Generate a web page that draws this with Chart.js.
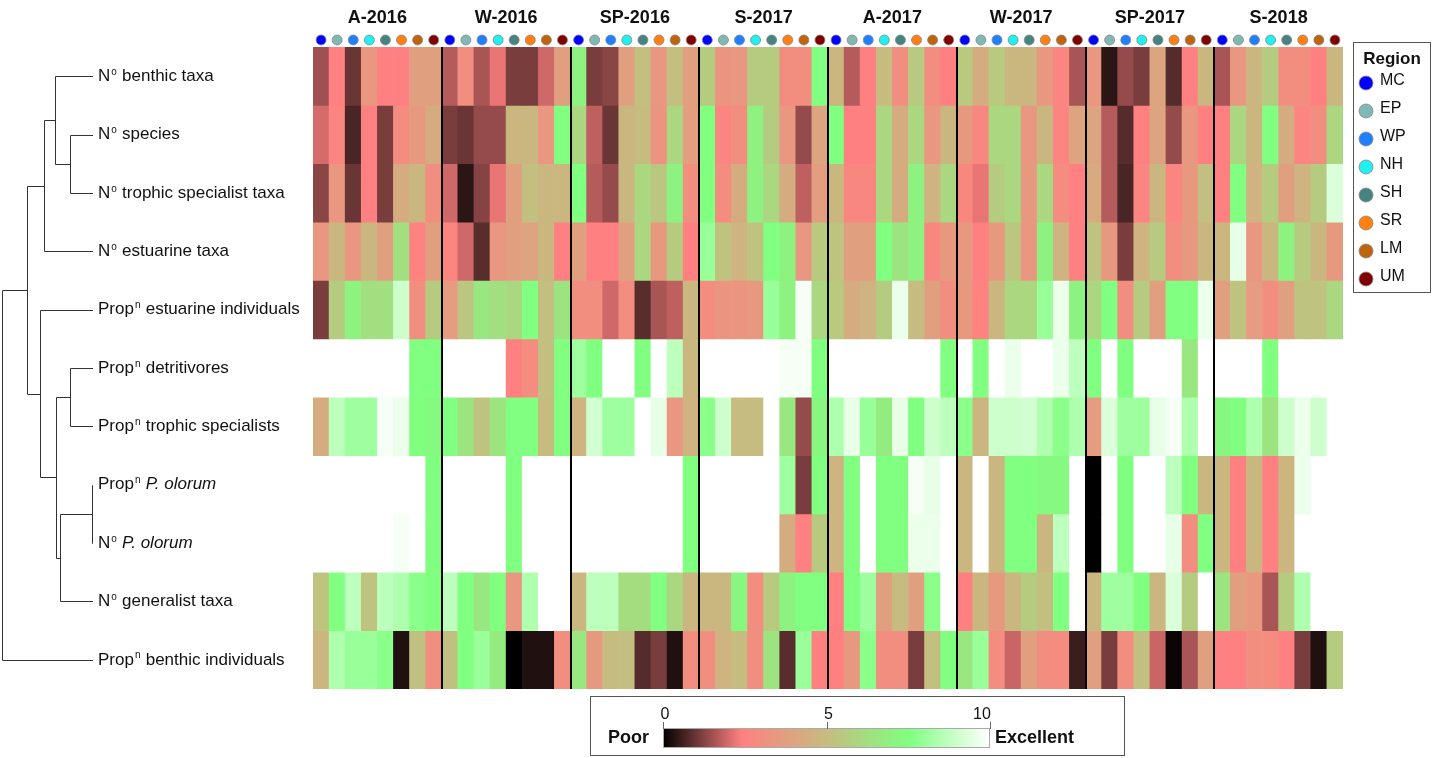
<!DOCTYPE html>
<html><head><meta charset="utf-8">
<script src="https://cdn.jsdelivr.net/npm/chart.js@4.4.1/dist/chart.umd.min.js"></script>
<style>html,body{margin:0;padding:0;background:#fff;overflow:hidden}#wrap{position:relative;width:1436px;height:758px}</style>
</head><body><div id="wrap"><canvas id="c" width="1436" height="758"></canvas></div>
<script>
const periods = ['A-2016','W-2016','SP-2016','S-2017','A-2017','W-2017','SP-2017','S-2018'];
const regions = ['MC','EP','WP','NH','SH','SR','LM','UM'];
const regionColors = ['#0000ff','#80b8b4','#1e80ff','#20f0f0','#468480','#ff8010','#c0640c','#800000'];
const indicatorLabels = [
  'N^o benthic taxa','N^o species','N^o trophic specialist taxa','N^o estuarine taxa',
  'Prop^n estuarine individuals','Prop^n detritivores','Prop^n trophic specialists',
  'Prop^n _P. olorum_','N^o _P. olorum_','N^o generalist taxa','Prop^n benthic individuals'];
const colorbarTicks = [0,5,10];

// scores 0-10, rows = indicators, columns = regions (MC..UM)
const A_2016 = [
[1.5,2.4,1.0,3.4,2.4,2.4,3.8,3.8],
[2.0,2.6,0.7,2.4,1.15,2.9,3.5,4.3],
[1.3,3.4,1.0,2.4,1.15,4.3,4.8,3.0],
[3.4,4.8,3.4,4.8,3.8,6.3,2.5,3.8],
[1.15,5.6,7.0,6.3,6.3,9.0,3.0,5.6],
[10,10,10,10,10,10,7.5,7.5],
[4.3,8.7,8.1,8.1,9.8,9.6,7.5,7.3],
[10,10,10,10,10,10,10,7.5],
[10,10,10,10,10,9.8,10,7.5],
[5.3,7.5,8.7,5.3,8.7,8.4,7.7,7.5],
[4.7,8.4,8.0,8.0,7.7,0.3,5.2,3.0]];
const W_2016 = [
[1.7,3.0,1.6,2.2,1.15,1.15,1.95,3.8],
[1.15,1.0,1.4,1.4,4.8,4.8,3.4,7.5],
[1.95,0.4,1.25,2.2,3.8,5.1,4.8,4.8],
[2.6,1.95,0.85,3.4,3.8,3.9,4.8,2.4],
[3.6,5.4,6.6,6.3,6.0,7.5,5.1,6.5],
[10,10,10,10,2.4,2.9,5.1,7.5],
[7.5,6.5,5.3,6.5,7.5,7.5,5.0,7.5],
[10,10,10,10,7.5,10,10,10],
[10,10,10,10,7.5,10,10,10],
[8.7,7.5,6.6,7.5,3.4,8.4,10,10],
[5.2,7.5,8.0,6.8,0.0,0.3,0.3,3.0]];
const SP_2016 = [
[7.0,1.15,1.3,3.8,5.1,3.4,5.1,3.8],
[6.0,1.8,1.0,4.8,5.0,3.3,6.0,3.7],
[7.5,1.7,1.4,4.8,6.0,5.4,7.0,3.0],
[3.8,2.4,2.4,3.8,6.0,3.5,5.6,2.4],
[3.0,3.0,1.95,3.0,0.85,1.6,1.8,4.8],
[8.1,7.5,10,10,7.5,10,8.7,4.8],
[4.6,9.1,8.1,8.1,10,9.5,3.4,4.6],
[10,10,10,10,10,10,10,7.5],
[10,10,10,10,10,10,10,7.5],
[4.8,8.7,8.7,6.2,6.2,7.5,6.0,4.8],
[6.6,3.5,5.0,5.1,0.8,1.15,0.3,3.0]];
const S_2017 = [
[5.6,3.3,3.4,5.6,5.6,3.0,3.0,7.5],
[7.5,2.6,3.0,7.0,5.6,3.4,1.4,4.0],
[7.5,2.9,4.3,7.0,6.0,4.3,1.8,3.7],
[8.0,5.3,4.6,5.3,7.5,7.0,3.4,5.5],
[2.9,3.3,3.3,3.5,8.0,7.0,9.8,6.0],
[10,10,10,10,10,9.8,9.8,7.5],
[7.7,9.0,5.0,5.0,10,6.6,1.4,7.2],
[10,10,10,10,10,8.1,1.15,7.5],
[10,10,10,10,10,4.3,2.4,5.5],
[4.8,4.8,7.2,3.0,5.5,7.0,7.5,7.5],
[3.0,4.6,5.0,3.0,6.5,0.85,8.0,2.4]];
const A_2017 = [
[4.8,1.7,2.4,5.0,3.0,5.5,3.0,2.4],
[7.5,2.4,2.4,6.0,4.3,6.0,3.4,4.8],
[4.8,2.7,2.7,6.0,4.3,7.0,4.6,6.0],
[5.3,3.8,3.8,7.5,6.5,7.0,2.7,3.5],
[5.5,4.3,4.6,5.6,9.6,5.0,3.8,3.0],
[10,10,10,10,10,10,10,7.5],
[8.4,9.5,8.0,6.8,9.5,7.5,9.0,8.7],
[4.6,7.5,10,7.5,7.5,9.8,9.5,10],
[4.6,7.5,10,7.5,7.5,9.6,9.6,10],
[2.4,7.5,8.1,3.8,5.0,3.8,7.7,10],
[2.4,3.5,7.7,3.0,3.0,1.15,5.1,7.5]];
const W_2017 = [
[5.5,4.3,5.5,4.8,4.8,3.4,2.6,1.6],
[3.5,2.7,6.0,6.0,3.4,4.8,2.6,4.0],
[2.7,2.2,5.6,6.0,3.5,6.0,2.9,2.4],
[3.5,2.4,3.5,5.4,3.4,7.0,4.6,2.4],
[3.5,2.5,4.8,6.0,6.0,8.0,9.6,7.0],
[10,7.5,10,9.6,10,10,9.6,8.7],
[7.7,4.7,9.0,9.0,9.1,8.4,7.7,8.4],
[4.8,10,4.8,7.5,7.5,7.3,7.3,10],
[4.8,10,4.8,7.5,7.5,4.8,8.7,10],
[2.4,4.8,3.5,4.8,5.6,5.1,7.5,10],
[6.6,8.0,2.9,1.9,3.8,3.0,2.9,0.55]];
const SP_2017 = [
[3.4,0.4,1.4,1.15,4.0,0.8,2.4,4.8],
[4.0,1.7,0.8,2.4,4.0,1.4,3.4,2.4],
[4.2,1.7,0.7,2.6,4.8,2.6,3.5,5.1],
[5.3,3.5,1.15,4.6,5.5,3.0,3.5,4.8],
[6.0,7.5,3.0,5.6,3.8,7.5,7.5,9.6],
[7.5,10,7.5,10,10,10,6.6,10],
[3.6,9.3,8.1,8.1,9.5,9.8,8.4,10],
[0,10,7.5,10,10,8.7,7.5,4.8],
[0,10,7.5,10,10,9.5,3.0,7.5],
[4.8,8.1,8.1,7.5,4.8,9.3,5.6,10],
[3.8,1.15,3.0,5.1,1.9,0.1,1.6,3.8]];
const S_2018 = [
[1.6,3.4,4.8,5.6,3.0,3.0,2.4,4.8],
[2.4,6.0,4.8,7.5,4.3,2.6,3.0,6.0],
[2.4,7.5,4.6,5.6,3.8,4.6,5.6,9.3],
[4.8,9.5,3.4,4.8,7.0,5.6,4.8,3.5],
[3.8,5.3,3.6,3.0,3.8,5.3,5.3,6.0],
[10,10,10,7.5,10,10,10,10],
[7.2,7.5,8.4,6.5,9.0,9.6,9.0,10],
[4.8,2.4,4.8,2.4,4.7,9.6,10,10],
[4.8,2.4,4.8,2.4,4.7,10,10,10],
[6.5,3.8,3.4,1.6,5.6,8.4,10,10],
[2.4,2.4,3.0,2.9,2.4,1.15,0.3,5.6]];
const periodData = [A_2016,W_2016,SP_2016,S_2017,A_2017,W_2017,SP_2017,S_2018];

// dendrogram: [childA, childB, height (0 = leaves, 1 = root)]; children are leaf indices or 'n'+node index
const dendroNodes = [
  [1,2,0.25],        // n0
  [0,'n0',0.42],     // n1
  ['n1',3,0.54],     // n2
  [5,6,0.25],        // n3
  [7,8,0.01],        // n4
  ['n4',9,0.36],     // n5
  ['n3','n5',0.41],  // n6
  [4,'n6',0.58],     // n7
  ['n2','n7',0.73],  // n8
  ['n8',10,1.0]      // n9 root
];

// colour scale
const cstops = [[0,[0,0,0]],[2.4,[255,128,128]],[5,[198,188,128]],[7.5,[128,255,128]],[10,[255,255,255]]];
function colorFor(v){
  for(let i=0;i<cstops.length-1;i++){
    const [a,ca]=cstops[i],[b,cb]=cstops[i+1];
    if(v<=b||i===cstops.length-2){
      const t=Math.max(0,Math.min(1,(v-a)/(b-a)));
      const c=ca.map((x,k)=>Math.round(x+(cb[k]-x)*t));
      return `rgb(${c[0]},${c[1]},${c[2]})`;
    }
  }
}

const labels=[]; periods.forEach(p=>regions.forEach(r=>labels.push(p+' '+r)));
const plainLabel = s=>s.replace(/\^(.)/g,'$1').replace(/_/g,'');
const datasets = indicatorLabels.map((lab,i)=>{
  const vals = periodData.flatMap(P=>P[i]);
  return {label:plainLabel(lab), data: vals.map(()=>[i,i+1]), scores: vals,
    backgroundColor: vals.map(colorFor), borderWidth:0, barPercentage:1, categoryPercentage:1, grouped:false};
});

const FONT='"Liberation Sans", Arial, sans-serif';
function drawRich(ctx, str, x, y, size){
  // tokens: ^c superscript, _..._ italic
  let italic=false; let i=0;
  ctx.textBaseline='middle'; ctx.textAlign='left';
  while(i<str.length){
    const ch=str[i];
    if(ch==='_'){italic=!italic;i++;continue;}
    if(ch==='^'){
      const s=str[i+1];
      ctx.font=`${italic?'italic ':''}${Math.round(size*0.6)}px ${FONT}`;
      ctx.fillText(s,x+1,y-size*0.24);
      x+=ctx.measureText(s).width+1.5; i+=2; continue;
    }
    let j=i; while(j<str.length && str[j]!=='_' && str[j]!=='^') j++;
    const seg=str.slice(i,j);
    ctx.font=`${italic?'italic ':''}${size}px ${FONT}`;
    ctx.fillText(seg,x,y);
    x+=ctx.measureText(seg).width; i=j;
  }
}

const decor = {
  id:'decor',
  afterDatasetsDraw(chart){
    const {ctx, scales:{x,y}, chartArea:ca} = chart;
    ctx.save();
    // dividers
    ctx.strokeStyle='#000'; ctx.lineWidth=2;
    for(let p=1;p<periods.length;p++){
      const px=Math.round((x.getPixelForValue(p*8-1)+x.getPixelForValue(p*8))/2);
      ctx.beginPath(); ctx.moveTo(px,ca.top); ctx.lineTo(px,ca.bottom); ctx.stroke();
    }
    // headers + dots
    ctx.textAlign='center'; ctx.textBaseline='middle';
    ctx.font=`bold 18px ${FONT}`;
    periods.forEach((p,k)=>{
      const cx=(x.getPixelForValue(k*8)+x.getPixelForValue(k*8+7))/2;
      ctx.fillStyle='#111'; ctx.fillText(p,cx,18);
      regions.forEach((r,j)=>{
        const px=x.getPixelForValue(k*8+j);
        ctx.beginPath(); ctx.arc(px,40,5,0,Math.PI*2);
        ctx.fillStyle=regionColors[j]; ctx.fill();
        ctx.strokeStyle='#888'; ctx.lineWidth=0.8; ctx.stroke();
      });
    });
    // row labels
    const rowY = i=>y.getPixelForValue(i+0.5);
    ctx.fillStyle='#111';
    indicatorLabels.forEach((lab,i)=>drawRich(ctx,lab,98,rowY(i),17));
    // dendrogram
    const leafX=93, rootX=2;
    const hx = h=>leafX-h*(leafX-rootX);
    const pos = {};
    const get = c=> typeof c==='number' ? {x:leafX,y:rowY(c)} : pos[c];
    ctx.strokeStyle='#333'; ctx.lineWidth=1;
    dendroNodes.forEach((n,k)=>{
      const a=get(n[0]), b=get(n[1]); const nx=Math.round(hx(n[2]))+0.5;
      ctx.beginPath();
      ctx.moveTo(nx,Math.round(a.y)+0.5); ctx.lineTo(nx,Math.round(b.y)+0.5);
      ctx.moveTo(nx,Math.round(a.y)+0.5); ctx.lineTo(a.x,Math.round(a.y)+0.5);
      ctx.moveTo(nx,Math.round(b.y)+0.5); ctx.lineTo(b.x,Math.round(b.y)+0.5);
      ctx.stroke();
      pos['n'+k]={x:nx,y:(a.y+b.y)/2};
    });
    // region legend
    ctx.strokeStyle='#555'; ctx.lineWidth=1;
    ctx.strokeRect(1353.5,42.5,77,250);
    ctx.fillStyle='#111'; ctx.textAlign='center'; ctx.font=`bold 17px ${FONT}`;
    ctx.fillText('Region',1392,59);
    regions.forEach((r,j)=>{
      const yy=83+28*j;
      ctx.beginPath(); ctx.arc(1366,yy,7,0,Math.PI*2);
      ctx.fillStyle=regionColors[j]; ctx.fill(); ctx.strokeStyle='#888'; ctx.lineWidth=0.8; ctx.stroke();
      ctx.fillStyle='#111'; ctx.textAlign='left'; ctx.font=`16px ${FONT}`;
      ctx.fillText(r,1380,yy-2);
    });
    // colour bar
    ctx.strokeStyle='#555'; ctx.lineWidth=1;
    ctx.strokeRect(590.5,696.5,534,59);
    const gx0=663, gx1=990, gy0=728, gy1=748;
    const g=ctx.createLinearGradient(gx0,0,gx1,0);
    cstops.forEach(([v,c])=>g.addColorStop(v/10,`rgb(${c.join(',')})`));
    ctx.fillStyle=g; ctx.fillRect(gx0,gy0,gx1-gx0,gy1-gy0);
    ctx.strokeStyle='#aaa'; ctx.strokeRect(gx0+0.5,gy0+0.5,gx1-gx0-1,gy1-gy0-1);
    ctx.fillStyle='#111'; ctx.textAlign='center'; ctx.font=`16px ${FONT}`;
    colorbarTicks.forEach(t=>{
      const px=gx0+(gx1-gx0)*t/10;
      ctx.strokeStyle='#666'; ctx.beginPath(); ctx.moveTo(Math.round(px)+0.5,722); ctx.lineTo(Math.round(px)+0.5,729); ctx.stroke();
      ctx.fillText(String(t), t===10?px-8:px+2, 715);
    });
    ctx.font=`bold 18px ${FONT}`; ctx.textAlign='left';
    ctx.fillText('Poor',608,738);
    ctx.fillText('Excellent',995,738);
    ctx.restore();
  }
};

new Chart(document.getElementById('c'),{
  type:'bar',
  data:{labels, datasets},
  options:{
    responsive:false, animation:false,
    layout:{padding:{left:313,right:93,top:47,bottom:69}},
    scales:{
      x:{display:false, offset:true, grid:{display:false}},
      y:{display:false, min:0, max:indicatorLabels.length, reverse:true}
    },
    plugins:{legend:{display:false},
      tooltip:{callbacks:{label:c=>c.dataset.label+': '+c.dataset.scores[c.dataIndex]}}}
  },
  plugins:[decor]
});
</script></body></html>
